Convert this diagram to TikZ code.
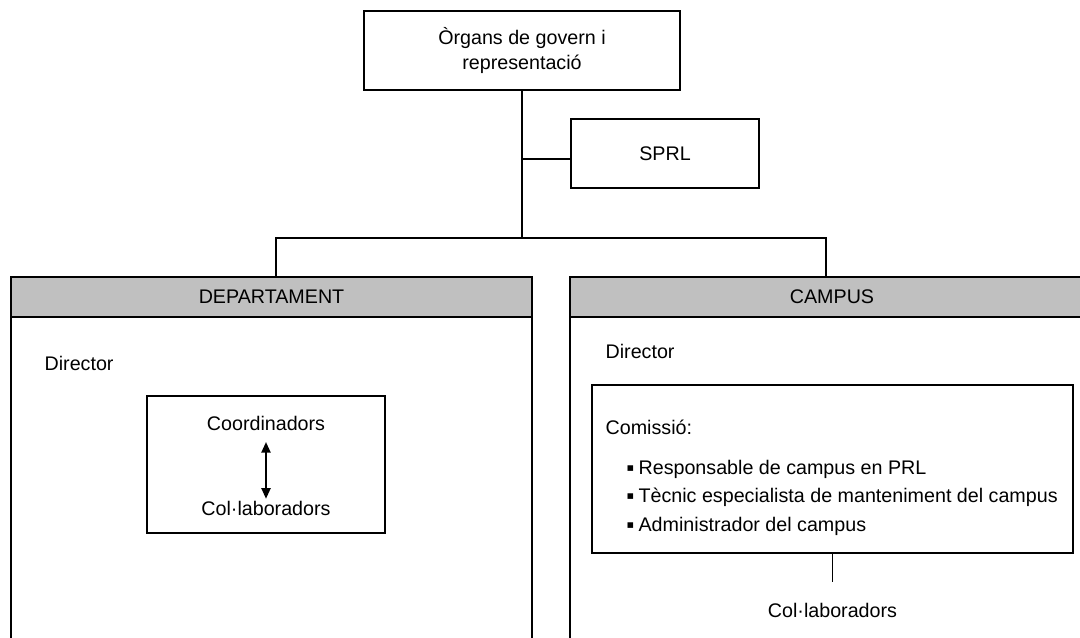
\documentclass[tikz,border=0pt]{standalone}
\usepackage{fontspec}
\setmainfont{Liberation Sans}
\newfontfamily\symfont{DejaVu Sans}
\usepackage{xcolor}
\usepackage{tikz}
\usetikzlibrary{positioning,arrows.meta}

\definecolor{headgray}{RGB}{192,192,192}
\newcommand{\itm}{\makebox[8.5pt][l]{\raisebox{1.8pt}{\symfont\fontsize{8}{8}\selectfont ▪}}}

\begin{document}
\begin{tikzpicture}[x=0.025cm,y=-0.025cm,
    line width=0.9pt,
    every node/.style={font=\fontsize{14}{17.8}\selectfont},
    box/.style={draw,fill=white,inner sep=0pt},
    header/.style={draw,fill=headgray,minimum height=1cm,inner sep=0pt},
    txt/.style={inner sep=0pt},
    dblarrow/.style={{Triangle[length=7.5pt,width=6.5pt]}-{Triangle[length=7.5pt,width=6.5pt]},line width=1.2pt}]

  \useasboundingbox (0,0) rectangle (1080,638);
  \clip (0,0) rectangle (1080,638);

  \node[box,minimum width=7.9cm,minimum height=1.975cm,align=center] (govern) at (522,50.5)
    {Òrgans de govern i\\representació};
  \node[box,minimum width=4.7cm,minimum height=1.725cm] (sprl) at (665,153.5) {\raisebox{-3pt}{SPRL}};

  \coordinate (bus) at (522,238);
  \coordinate (sprlj) at (522,159);
  \coordinate (busL) at (276,238);
  \coordinate (busR) at (826,238);

  \draw (11,277) rectangle (532,660);
  \node[header,minimum width=13.025cm] (dept) at (271.5,297) {DEPARTAMENT};
  \draw (570,277) rectangle (1094,660);
  \node[header,minimum width=13.1cm] (campus) at (832,297) {CAMPUS};

  \draw (govern.south) -- (bus);
  \draw (sprlj) -- (sprlj -| sprl.west);
  \draw (busL |- dept.north) -- (busL) -- (busR) -- (busR |- campus.north);

  \node[txt,anchor=base west] (dirD) at (44,370) {Director};
  \node[box,minimum width=5.95cm,minimum height=3.425cm] (team) at (266,464.5) {};
  \node[txt,anchor=base] (coord) at (266,430) {Coordinadors};
  \node[txt,anchor=base] (collabD) at (266,515) {Col·laboradors};
  \draw[dblarrow,shorten <=8pt,shorten >=1pt] (coord.south) -- (collabD.north);

  \node[txt,anchor=base west] (dirC) at (605,358) {Director};
  \node[box,minimum width=12.025cm,minimum height=4.2cm] (comm) at (832.5,469) {};
  \node[txt,anchor=base west] (comissio) at (605,434) {Comissió:};
  \node[txt,anchor=base west] (resp) at (626,474) {\itm Responsable de campus en PRL};
  \node[txt,anchor=base west] (tecnic) at (626,502.5) {\itm Tècnic especialista de manteniment del campus};
  \node[txt,anchor=base west] (admin) at (626,531) {\itm Administrador del campus};
  \node[txt,anchor=base] (collabC) at (832.5,617) {Col·laboradors};
  \draw (comm.south) -- (comm.south |- collabC.north) [shorten >=14pt];

\end{tikzpicture}
\end{document}
